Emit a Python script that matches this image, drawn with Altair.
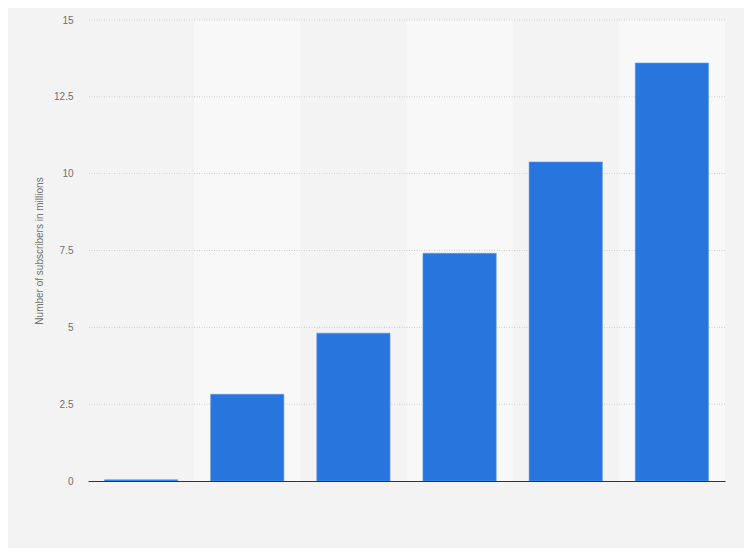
import pandas as pd
import altair as alt

# categories are not labelled on the reference axis
periods = ["2017", "2018", "2019", "2020", "2021", "2022"]
subscribers = [0.04, 2.82, 4.81, 7.41, 10.38, 13.6]
shaded = [False, True, False, True, False, True]
y_ticks = [0, 2.5, 5, 7.5, 10, 12.5, 15]

df = pd.DataFrame({"period": periods, "subscribers": subscribers, "shaded": shaded})
grid_df = pd.DataFrame({"tick": y_ticks[1:]})

y_scale = alt.Scale(domain=[0, 15], nice=False)

x = alt.X(
    "period:N",
    sort=periods,
    scale=alt.Scale(paddingInner=0, paddingOuter=0),
    axis=alt.Axis(
        title=None, labels=False, ticks=False,
        domainColor="#333333", domainWidth=1.2,
    ),
)

bands = alt.Chart(df).transform_filter("datum.shaded").mark_rect(
    color="#f8f8f8"
).encode(
    x=x,
    y=alt.value(0),
    y2=alt.value(461),
)

# gridlines drawn between the shaded bands and the bars
grid = alt.Chart(grid_df).mark_rule(
    color="#cdcdcd", strokeDash=[1, 1.5], strokeWidth=1
).encode(
    y=alt.Y("tick:Q", scale=y_scale),
)

bars = alt.Chart(df).mark_bar(
    color="#2876dd",
    width=alt.RelativeBandSize(0.69),
    stroke="#5c97e6",
    strokeWidth=0.6,
).encode(
    x=x,
    y=alt.Y(
        "subscribers:Q",
        scale=y_scale,
        axis=alt.Axis(
            title="Number of subscribers in millions",
            values=y_ticks,
            labelExpr="datum.value + ''",
            ticks=False,
            domain=False,
            grid=False,
            labelColor="#707070",
            labelFont="Liberation Sans",
            labelFontSize=10,
            labelPadding=15,
            titleColor="#707070",
            titleFont="Liberation Sans",
            titleFontSize=10,
            titleFontWeight="normal",
            titlePadding=9,
        ),
    ),
    tooltip=["period", "subscribers"],
)

chart = alt.layer(bands, grid, bars).properties(
    width=637,
    height=461,
    background="#f3f3f3",
    padding={"left": 80, "top": 12, "right": 19, "bottom": 67},
    autosize=alt.AutoSizeParams(type="none"),
).configure_view(stroke=None)

chart.save("out.html", embed_options={"renderer": "svg", "actions": False})
